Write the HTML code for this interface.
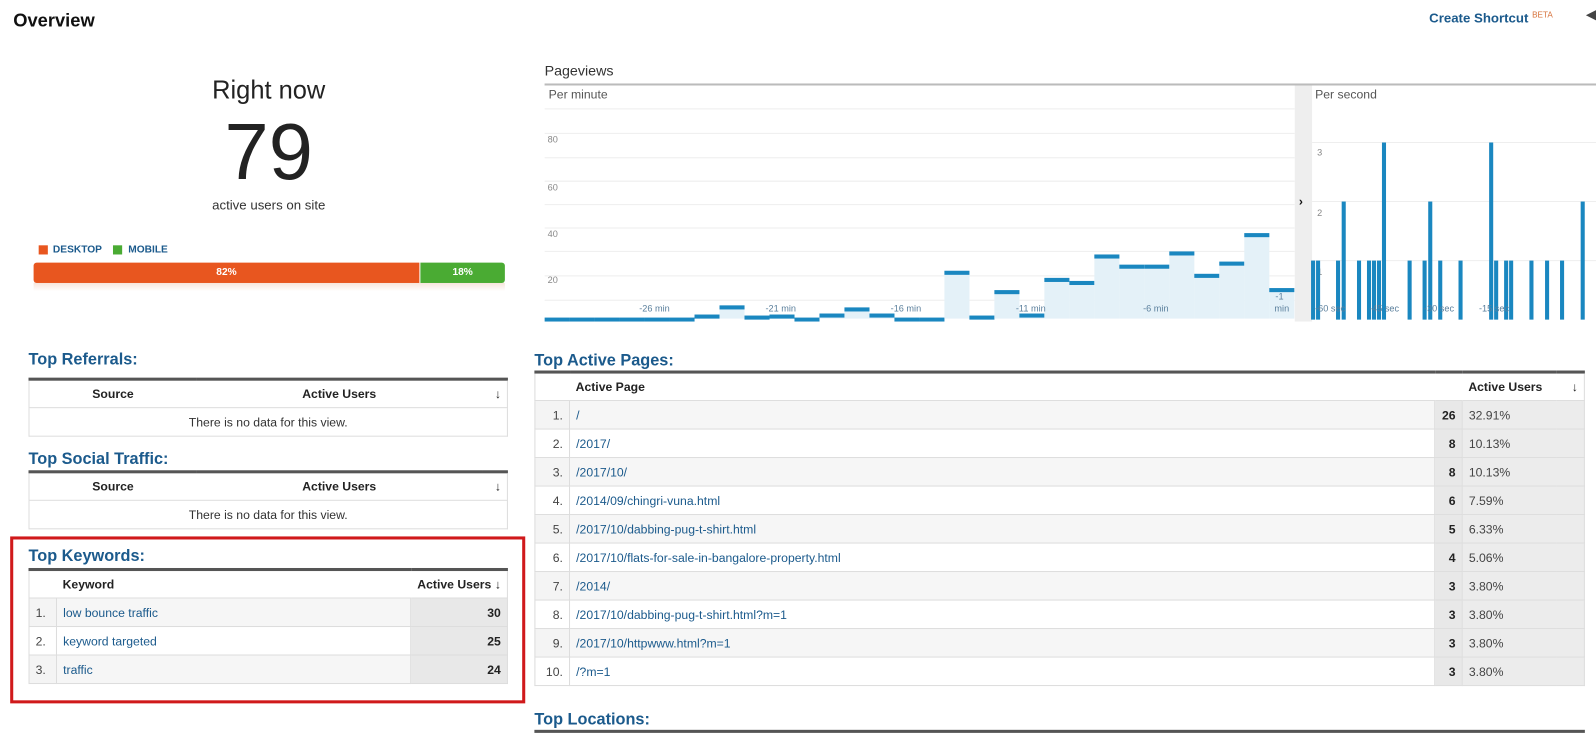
<!DOCTYPE html>
<html><head><meta charset="utf-8"><style>
*{margin:0;padding:0;box-sizing:border-box}
body{width:1596px;height:734px;overflow:hidden;background:#fff;font-family:"Liberation Sans",sans-serif;position:relative;color:#222}
#w{position:absolute;left:0;top:0;width:1568px;height:721px;transform:scale(1.0179);transform-origin:0 0}
.a{position:absolute}
.h{color:#1b5a8c;font-weight:bold;font-size:16px}
table{border-collapse:collapse;position:absolute;font-size:12px}
td,th{border:1px solid #ddd;height:28px;padding:0 6px;white-space:nowrap}
th{font-weight:bold;color:#222;text-align:left;background:#fff;border-left:none;border-right:none}
tr th:first-child{border-left:1px solid #ddd}
tr th:last-child{border-right:1px solid #ddd}
.tb{border-top:3px solid #555}
.n{text-align:right;color:#444;background:#f4f4f4}
.l{color:#1b5a8c}
.g{background:#e8e8e8;font-weight:bold;text-align:right}
.p{background:#ececec;color:#444}
tr.o td.l{background:#f6f6f6}
</style></head><body><div id="w">
<div class="a" style="left:13px;top:10px;font-size:18px;font-weight:bold;color:#111">Overview</div>
<div class="a" style="left:1404px;top:10px;font-size:13px;font-weight:bold;color:#1b5a8c">Create Shortcut <span style="font-size:8px;color:#d6713a;font-weight:normal;vertical-align:top">BETA</span></div>
<div class="a" style="left:1558px;top:10px;width:0;height:0;border-top:5px solid transparent;border-bottom:5px solid transparent;border-right:10px solid #444"></div>

<div class="a" style="left:0;width:528px;top:75px;text-align:center;font-size:25px;color:#222">Right now</div>
<div class="a" style="left:0;width:528px;top:104px;text-align:center;font-size:78px;color:#222;line-height:90px">79</div>
<div class="a" style="left:0;width:528px;top:194px;text-align:center;font-size:13px;color:#333">active users on site</div>
<div class="a" style="left:38px;top:241px;width:9px;height:9px;background:#e8561f"></div>
<div class="a" style="left:52px;top:240px;font-size:10px;font-weight:bold;color:#1b5a8c">DESKTOP</div>
<div class="a" style="left:111px;top:241px;width:9px;height:9px;background:#4aab33"></div>
<div class="a" style="left:126px;top:240px;font-size:10px;font-weight:bold;color:#1b5a8c">MOBILE</div>
<div class="a" style="left:33px;top:258px;width:379px;height:20px;background:#e8561f;border-radius:3px 0 0 3px;color:#fff;font-size:10px;font-weight:bold;text-align:center;line-height:20px">82%</div>
<div class="a" style="left:413px;top:258px;width:83px;height:20px;background:#4aab33;border-radius:0 3px 3px 0;color:#fff;font-size:10px;font-weight:bold;text-align:center;line-height:20px">18%</div>
<div class="a" style="left:33px;top:278px;width:463px;height:8px;background:linear-gradient(#f7e5dc,#fff)"></div>

<div class="a" style="left:535px;top:61px;font-size:14px;color:#333">Pageviews</div>
<div class="a" style="left:535px;top:82px;width:1033px;height:2px;background:#bbb"></div>
<svg class="a" style="left:535px;top:84px" width="1033" height="232">
<g stroke="#eee" stroke-width="1">
<line x1="0" y1="23" x2="737" y2="23"/><line x1="0" y1="47" x2="737" y2="47"/><line x1="0" y1="71" x2="737" y2="71"/><line x1="0" y1="94" x2="737" y2="94"/><line x1="0" y1="117" x2="737" y2="117"/><line x1="0" y1="140" x2="737" y2="140"/><line x1="0" y1="163" x2="737" y2="163"/><line x1="0" y1="187" x2="737" y2="187"/><line x1="0" y1="211" x2="737" y2="211"/>
<line x1="754" y1="56" x2="1033" y2="56"/><line x1="754" y1="114" x2="1033" y2="114"/><line x1="754" y1="172" x2="1033" y2="172"/>
</g>
<text x="4" y="13" font-size="12" fill="#555" font-family="Liberation Sans">Per minute</text>
<g font-size="9" fill="#888" font-family="Liberation Sans"><text x="3" y="56">80</text><text x="3" y="103">60</text><text x="3" y="149">40</text><text x="3" y="194">20</text></g>
<g id="bars"></g>
<g font-size="9" fill="#5a7f9c" font-family="Liberation Sans"><text x="93" y="222">-26 min</text><text x="217" y="222">-21 min</text><text x="340" y="222">-16 min</text><text x="463" y="222">-11 min</text><text x="588" y="222">-6 min</text><text x="718" y="210">-1</text><text x="717" y="222">min</text></g>
<rect x="737" y="0" width="17" height="232" fill="#eee"/>
<text x="741" y="118" font-size="12" font-weight="bold" fill="#111" font-family="Liberation Sans">›</text>
<text x="757" y="13" font-size="12" fill="#555" font-family="Liberation Sans">Per second</text>
<g font-size="9" fill="#888" font-family="Liberation Sans"><text x="759" y="69">3</text><text x="759" y="128">2</text><text x="759" y="186">1</text></g>
<g fill="#1a87c0" id="ps"></g>
<g font-size="9" fill="#5a7f9c" font-family="Liberation Sans"><text x="757" y="222">-60 sec</text><text x="810" y="222">-45 sec</text><text x="864" y="222">-30 sec</text><text x="918" y="222">-15 sec</text></g>
</svg>
<script>
var v=[312,312,312,312,312,312,309,300,310,309,312,308,302,308,312,312,266,310,285,308,273,276,250,260,260,247,269,257,229,283];
var s='';for(var i=0;i<30;i++){var x=i*24.55,y=v[i]-84;s+='<rect x="'+x+'" y="'+y+'" width="24.6" height="'+(229-y)+'" fill="#e4f1f8"/><rect x="'+x+'" y="'+y+'" width="24.6" height="4" fill="#1a87c0"/>';}
document.getElementById('bars').innerHTML=s;
var p=[[130,1],[145,1],[205,1],[222,2],[268,1],[298,1],[313,1],[328,1],[343,3],[420,1],[465,1],[482,2],[512,1],[573,1],[665,3],[680,1],[710,1],[725,1],[786,1],[833,1],[878,1],[940,2]];
var t='';p.forEach(function(q){var x=1290+(q[0]-130)*0.327-535,h=q[1]*58;t+='<rect x="'+(x-2)+'" y="'+(230-h)+'" width="4" height="'+h+'"/>';});
document.getElementById('ps').innerHTML=t;
</script>

<div class="a h" style="left:28px;top:345px">Top Referrals:</div>
<table style="left:28px;top:371px;width:471px" class="tb"><tr><th style="width:35%;text-align:center">Source</th><th style="text-align:center">Active Users</th><th style="width:25px;text-align:right;font-weight:normal">↓</th></tr><tr><td colspan="3" style="text-align:center;color:#333">There is no data for this view.</td></tr></table>
<div class="a h" style="left:28px;top:443px">Top Social Traffic:</div>
<table style="left:28px;top:462px;width:471px" class="tb"><tr><th style="width:35%;text-align:center">Source</th><th style="text-align:center">Active Users</th><th style="width:25px;text-align:right;font-weight:normal">↓</th></tr><tr><td colspan="3" style="text-align:center;color:#333">There is no data for this view.</td></tr></table>

<div class="a" style="left:10px;top:527px;width:506px;height:164px;border:3px solid #d0191b"></div>
<div class="a h" style="left:28px;top:538px">Top Keywords:</div>
<table style="left:28px;top:558px;width:471px" class="tb">
<tr><th style="width:27px"></th><th>Keyword</th><th style="width:92px;text-align:right">Active Users ↓</th></tr>
<tr class="o"><td class="n" style="text-align:left">1.</td><td class="l">low bounce traffic</td><td class="g">30</td></tr>
<tr><td class="n" style="text-align:left;background:#fff">2.</td><td class="l">keyword targeted</td><td class="g">25</td></tr>
<tr class="o"><td class="n" style="text-align:left">3.</td><td class="l">traffic</td><td class="g">24</td></tr>
</table>

<div class="a h" style="left:525px;top:346px">Top Active Pages:</div>
<table style="left:525px;top:364px;width:1032px" class="tb">
<tr><th style="width:34px"></th><th>Active Page</th><th style="width:27px"></th><th style="width:92px;text-align:left;padding-left:6px">Active Users</th><th style="width:28px;text-align:right;font-weight:normal">↓</th></tr>
<tr class="o"><td class="n">1.</td><td class="l">/</td><td class="g">26</td><td class="p" colspan="2">32.91%</td></tr>
<tr><td class="n" style="background:#fff">2.</td><td class="l">/2017/</td><td class="g">8</td><td class="p" colspan="2">10.13%</td></tr>
<tr class="o"><td class="n">3.</td><td class="l">/2017/10/</td><td class="g">8</td><td class="p" colspan="2">10.13%</td></tr>
<tr><td class="n" style="background:#fff">4.</td><td class="l">/2014/09/chingri-vuna.html</td><td class="g">6</td><td class="p" colspan="2">7.59%</td></tr>
<tr class="o"><td class="n">5.</td><td class="l">/2017/10/dabbing-pug-t-shirt.html</td><td class="g">5</td><td class="p" colspan="2">6.33%</td></tr>
<tr><td class="n" style="background:#fff">6.</td><td class="l">/2017/10/flats-for-sale-in-bangalore-property.html</td><td class="g">4</td><td class="p" colspan="2">5.06%</td></tr>
<tr class="o"><td class="n">7.</td><td class="l">/2014/</td><td class="g">3</td><td class="p" colspan="2">3.80%</td></tr>
<tr><td class="n" style="background:#fff">8.</td><td class="l">/2017/10/dabbing-pug-t-shirt.html?m=1</td><td class="g">3</td><td class="p" colspan="2">3.80%</td></tr>
<tr class="o"><td class="n">9.</td><td class="l">/2017/10/httpwww.html?m=1</td><td class="g">3</td><td class="p" colspan="2">3.80%</td></tr>
<tr><td class="n" style="background:#fff">10.</td><td class="l">/?m=1</td><td class="g">3</td><td class="p" colspan="2">3.80%</td></tr>
</table>
<div class="a h" style="left:525px;top:699px">Top Locations:</div>
<div class="a" style="left:525px;top:717px;width:1032px;height:3px;background:#555"></div>
</div></body></html>
